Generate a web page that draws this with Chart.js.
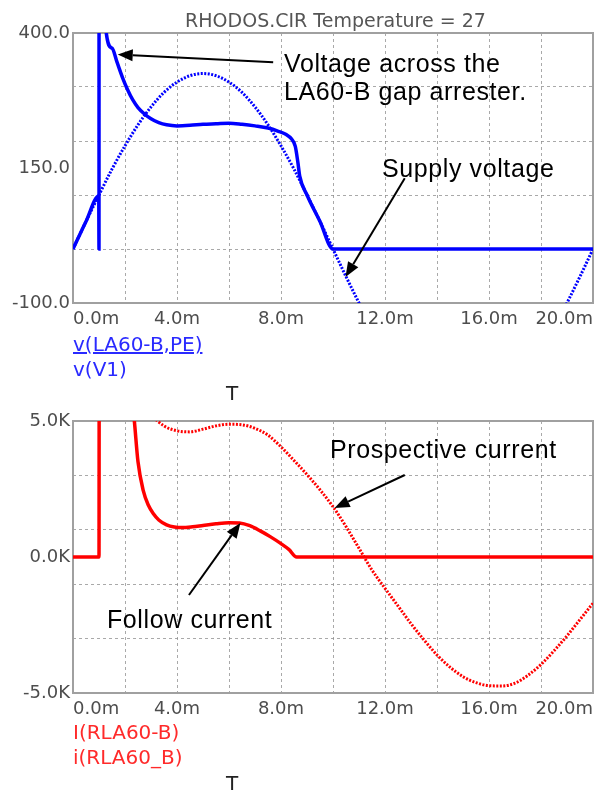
<!DOCTYPE html>
<html>
<head>
<meta charset="utf-8">
<script src="https://cdn.jsdelivr.net/npm/chart.js@4.4.1/dist/chart.umd.min.js"></script>
<style>
  body { margin: 0; background: #fff; }
  #pagina { position: relative; width: 599px; height: 792px; overflow: hidden; font-family: "DejaVu Sans", sans-serif; }
  .caixa { position: absolute; left: 0; width: 599px; }
  .txt { position: absolute; white-space: nowrap; }
  .nota { font-family: "Liberation Sans", Arial, sans-serif; font-size: 25px; line-height: 28px; letter-spacing: 0.6px; color: #000; }
  .leg { left: 73px; font-size: 20px; line-height: 24px; }
  .eixo { left: 226px; font-size: 20px; line-height: 24px; color: #222; }
</style>
</head>
<body>
<div id="pagina">
  <div class="caixa" style="top:0;height:392px"><canvas id="graficoTensao"></canvas></div>
  <div class="caixa" style="top:392px;height:400px"><canvas id="graficoCorrente"></canvas></div>

  <div class="txt" style="left:73px;width:525px;top:8px;text-align:center;font-size:19px;line-height:24px;color:#555">RHODOS.CIR Temperature = 27</div>

  <div class="txt nota" style="left:284px;top:49px">Voltage across the<br>LA60-B gap arrester.</div>
  <div class="txt nota" style="left:382px;top:154px">Supply voltage</div>
  <div class="txt nota" style="left:330px;top:435px">Prospective current</div>
  <div class="txt nota" style="left:107px;top:605px">Follow current</div>

  <div class="txt leg" style="top:332px;color:#2a2aff;text-decoration:underline">v(LA60-B,PE)</div>
  <div class="txt leg" style="top:357px;color:#2a2aff">v(V1)</div>
  <div class="txt eixo" style="top:381px">T</div>

  <div class="txt leg" style="top:720px;color:#ff2a2a">I(RLA60-B)</div>
  <div class="txt leg" style="top:745px;color:#ff2a2a">i(RLA60_B)</div>
  <div class="txt eixo" style="top:771px">T</div>
</div>

<script>
// eixo do tempo (ms)
const tempoGrade = [0, 20];
const tempoRotulos = [0, 4, 8, 12, 16, 20];

// grafico de tensao
const tensaoTicks = [-100, 0, 100, 150, 200, 300, 400];
const tensaoGrade = [-100, 0, 100, 200, 300, 400];
const tensaoRotulos = [400, 150, -100];

const redeT = [0, 0.5, 1, 1.5, 2, 2.5, 3, 3.5, 4, 4.5, 5, 5.5, 6, 6.5, 7, 7.5, 8, 8.5, 9, 9.5, 10,
  10.5, 11, 11.5, 12, 12.5, 13, 13.5, 14, 14.5, 15, 15.5, 16, 16.5, 17, 17.5, 18, 18.5, 19, 19.5, 20];
const redeV = [0, 51, 100, 148, 191, 230, 263, 290, 309, 321, 325, 321, 309, 290, 263, 230, 191, 148, 100, 51, 0,
  -51, -100, -148, -191, -230, -263, -290, -309, -321, -325, -321, -309, -290, -263, -230, -191, -148, -100, -51, 0];

const para60T = [0, 0.5, 0.99, 1.0, 1.01, 1.2, 1.28, 1.5, 1.7, 1.9, 2.1, 2.3, 2.5, 2.75, 3.0, 3.3, 3.6, 4.0, 4.5,
  5.0, 5.5, 6.0, 6.5, 7.0, 7.5, 7.9, 8.2, 8.4, 8.55, 8.65, 8.72, 9.0, 9.5, 10.0, 20];
const para60V = [0, 51, 98, 0, 3000, 700, 400, 372, 345, 318, 295, 276, 262, 250, 241, 234, 230, 228, 229,
  231, 232, 233, 231, 228, 224, 218, 212, 204, 190, 160, 135, 100, 51, 0, 0];

// grafico de corrente
const correnteTicks = [-5000, -3000, -1000, 0, 1000, 3000, 5000];
const correnteGrade = [-5000, -3000, -1000, 1000, 3000, 5000];
const correnteRotulos = [5000, 0, -5000];

const seguidaT = [0, 1.0, 1.02, 2.1, 2.36, 2.5, 2.7, 2.9, 3.1, 3.3, 3.6, 3.9, 4.2, 4.6, 5.0, 5.5, 6.0, 6.4,
  6.8, 7.2, 7.6, 8.0, 8.3, 8.6, 20];
const seguidaI = [0, 0, 30000, 7500, 5000, 3500, 2450, 1900, 1580, 1360, 1180, 1100, 1080, 1110, 1160, 1220, 1260, 1250,
  1150, 960, 740, 490, 280, 0, 0];

const prospT = [2.5, 3, 3.5, 4, 4.5, 5, 5.5, 6, 6.5, 7, 7.5, 8, 8.5, 9, 9.5, 10, 10.5, 11, 11.5, 12,
  12.5, 13, 13.5, 14, 14.5, 15, 15.5, 16, 16.5, 17, 17.5, 18, 18.5, 19, 19.5, 20];
const prospI = [6000, 5250, 4820, 4640, 4600, 4700, 4820, 4880, 4860, 4730, 4480, 4050, 3550, 3030, 2470, 1850, 1120, 320, -480, -1150,
  -1800, -2450, -3050, -3600, -4050, -4400, -4620, -4730, -4740, -4640, -4350, -3950, -3450, -2900, -2300, -1700];

// setas das anotacoes (de -> para, em unidades dos eixos)
const setasTensao = [
  { de: [7.7, 346], para: [1.72, 360] },
  { de: [12.76, 131], para: [10.48, -52] }
];
const setasCorrente = [
  { de: [12.76, 3015], para: [10.06, 1800] },
  { de: [4.46, -1397], para: [6.44, 1250] }
];

Chart.defaults.font.family = "'DejaVu Sans', sans-serif";

const pares = (ts, vs) => ts.map((t, i) => ({ x: t, y: vs[i] }));

function moldura(setas) {
  return {
    id: "moldura",
    beforeDatasetsDraw(chart) {
      const { ctx, chartArea: a } = chart;
      ctx.save();
      ctx.strokeStyle = "#a0a0a0";
      ctx.lineWidth = 2;
      ctx.strokeRect(a.left, a.top, a.right - a.left, a.bottom - a.top);
      ctx.restore();
    },
    afterDraw(chart) {
      const { ctx, scales: { x, y } } = chart;
      ctx.save();
      ctx.strokeStyle = "#000";
      ctx.fillStyle = "#000";
      ctx.lineWidth = 2;
      setas.forEach(s => {
        const x0 = x.getPixelForValue(s.de[0]), y0 = y.getPixelForValue(s.de[1]);
        const x1 = x.getPixelForValue(s.para[0]), y1 = y.getPixelForValue(s.para[1]);
        const ang = Math.atan2(y1 - y0, x1 - x0);
        const L = 15, W = 6;
        const bx = x1 - L * Math.cos(ang), by = y1 - L * Math.sin(ang);
        ctx.beginPath();
        ctx.moveTo(x0, y0);
        ctx.lineTo(bx, by);
        ctx.stroke();
        ctx.beginPath();
        ctx.moveTo(x1, y1);
        ctx.lineTo(bx + W * Math.sin(ang), by - W * Math.cos(ang));
        ctx.lineTo(bx - W * Math.sin(ang), by + W * Math.cos(ang));
        ctx.closePath();
        ctx.fill();
      });
      ctx.restore();
    }
  };
}

function opcoes(yMin, yMax, ticks, grade, rotulos, fmt, padTop, padBottom) {
  return {
    responsive: true,
    maintainAspectRatio: false,
    animation: false,
    layout: { padding: { top: padTop, right: 1, bottom: padBottom, left: 0 } },
    elements: { point: { radius: 0 } },
    plugins: { legend: { display: false }, tooltip: { enabled: false } },
    scales: {
      x: {
        type: "linear",
        min: tempoGrade[0],
        max: tempoGrade[1],
        afterFit: s => { s.height = 24; },
        grid: { color: "rgba(140,140,140,0.75)", lineWidth: 1, drawTicks: false },
        border: { display: false, dash: [3, 3] },
        ticks: {
          stepSize: 2,
          autoSkip: false,
          maxRotation: 0,
          align: "inner",
          padding: 6,
          color: "#4d4d4d",
          font: { size: 18 },
          callback: v => tempoRotulos.includes(v) ? v.toFixed(1) + "m" : ""
        }
      },
      y: {
        type: "linear",
        min: yMin,
        max: yMax,
        afterFit: s => { s.width = 73; },
        afterBuildTicks: s => { s.ticks = ticks.map(v => ({ value: v })); },
        grid: {
          color: c => grade.includes(c.tick.value) ? "rgba(140,140,140,0.75)" : "rgba(0,0,0,0)",
          lineWidth: 1,
          drawTicks: false
        },
        border: { display: false, dash: [3, 3] },
        ticks: {
          autoSkip: false,
          padding: 3,
          color: "#4d4d4d",
          font: { size: 18 },
          callback: v => rotulos.includes(v) ? fmt(v) : ""
        }
      }
    }
  };
}

new Chart(document.getElementById("graficoTensao").getContext("2d"), {
  type: "line",
  data: {
    datasets: [
      {
        label: "v(LA60-B,PE)",
        data: pares(para60T, para60V),
        borderColor: "#0000ff",
        borderWidth: 3.5,
        cubicInterpolationMode: "monotone"
      },
      {
        label: "v(V1)",
        data: pares(redeT, redeV),
        borderColor: "#0000ff",
        borderWidth: 3,
        borderDash: [2, 1.5],
        cubicInterpolationMode: "monotone"
      }
    ]
  },
  options: opcoes(-100, 400, tensaoTicks, tensaoGrade, tensaoRotulos, v => v.toFixed(1), 33, 65),
  plugins: [moldura(setasTensao)]
});

new Chart(document.getElementById("graficoCorrente").getContext("2d"), {
  type: "line",
  data: {
    datasets: [
      {
        label: "I(RLA60-B)",
        data: pares(seguidaT, seguidaI),
        borderColor: "#ff0000",
        borderWidth: 3.5,
        cubicInterpolationMode: "monotone"
      },
      {
        label: "i(RLA60_B)",
        data: pares(prospT, prospI),
        borderColor: "#ff0000",
        borderWidth: 3,
        borderDash: [2, 1.5],
        cubicInterpolationMode: "monotone"
      }
    ]
  },
  options: opcoes(-5000, 5000, correnteTicks, correnteGrade, correnteRotulos, v => (v / 1000).toFixed(1) + "K", 29, 75),
  plugins: [moldura(setasCorrente)]
});
</script>
</body>
</html>
